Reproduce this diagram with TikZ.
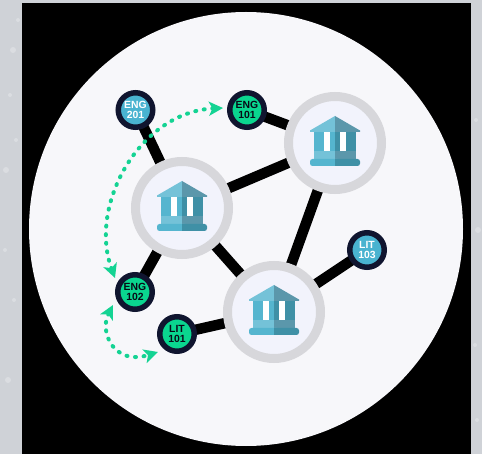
\documentclass[tikz,border=0pt]{standalone}
\usepackage{fontspec}
\setmainfont{Liberation Sans}
\usetikzlibrary{arrows.meta,backgrounds}
\definecolor{bgstrip}{HTML}{CFD2D7}
\definecolor{disc}{HTML}{F7F7FA}
\definecolor{ringgray}{HTML}{D7D7DB}
\definecolor{hubfill}{HTML}{F2F3FC}
\definecolor{navy}{HTML}{10152F}
\definecolor{mint}{HTML}{0AD68F}
\definecolor{sky}{HTML}{49B3D0}
\definecolor{dotgreen}{HTML}{14D393}
\definecolor{lightL}{HTML}{74C2D8}
\definecolor{lightR}{HTML}{5B97AB}
\definecolor{midL}{HTML}{55B5CF}
\definecolor{midR}{HTML}{3F90A6}
\tikzset{
  x=1pt,y=-1pt,
  hubnode/.style={circle,draw=ringgray,line width=9pt,fill=hubfill,minimum size=93pt,inner sep=0pt,outer sep=0pt},
  course/.style={circle,draw=navy,line width=5.5pt,minimum size=34.5pt,inner sep=0pt,outer sep=0pt,align=center,
    font=\bfseries\fontsize{10.4}{9.8}\selectfont},
  coursegreen/.style={course,fill=mint,text=navy!50!black},
  courseblue/.style={course,fill=sky,text=white},
  link/.style={line width=10.5pt,black},
  hop/.style={dotgreen,line width=4pt,line cap=round,dash pattern=on 1pt off 7.6pt,
    {Stealth[length=14pt,width=14pt,inset=3.5pt,line cap=butt]}-{Stealth[length=14pt,width=14pt,inset=3.5pt,line cap=butt]}},
  pics/building/.style={code={
    \fill[lightL] (0,-27) -- (-25,-12.5) -- (-25,-11) -- (0,-11) -- cycle;
    \fill[lightR] (0,-27) -- (25,-12.5) -- (25,-11) -- (0,-11) -- cycle;
    \fill[midL] (-21,-11) rectangle (0,8);
    \fill[midR] (0,-11) rectangle (21,8);
    \fill[lightL] (-21,8) rectangle (0,17);
    \fill[lightR] (0,8) rectangle (21,17);
    \fill[midL,rounded corners=2.5pt] (-25,16) rectangle (6,23);
    \fill[midR,rounded corners=2.5pt] (0,16) rectangle (25,23);
    \fill[midR] (0,16) rectangle (4,23);
    \fill[white] (-11,-10.7) rectangle (-4.7,7.8);
    \fill[white] (4.7,-10.7) rectangle (11,7.8);
  }}
}
\begin{document}
\begin{tikzpicture}
\useasboundingbox (0,0) rectangle (482,454);
% main nodes
\node[hubnode] (hubA) at (182,208) {};
\node[hubnode] (hubB) at (335,143) {};
\node[hubnode] (hubC) at (274,312) {};
\node[courseblue] (eng201) at (135.5,110) {ENG\\201};
\node[coursegreen] (eng101) at (247,110) {ENG\\101};
\node[coursegreen] (eng102) at (135,292) {ENG\\102};
\node[coursegreen] (lit101) at (177,334) {LIT\\101};
\node[courseblue] (lit103) at (367,250) {LIT\\103};
\pic at (hubA) {building};
\pic at (hubB) {building};
\pic at (hubC) {building};
\begin{scope}[on background layer]
  \fill[bgstrip] (0,0) rectangle (482,454);
  \foreach \px/\py/\pr in {18/20/2,13/50/3,10/95/2,6/170/3,14/300/2,8/380/3,476/120/2,478/230/3,475/345/2,477/420/2,5/250/2,16/140/2}
    \fill[white,opacity=.25] (\px,\py) circle (\pr);
  \fill[black] (22,3) rectangle (471,454);
  \fill[disc] (246,229) circle (217);
  \draw[link] (eng201) -- (hubA);
  \draw[link] (eng102) -- (hubA);
  \draw[link] (hubA) -- (hubB);
  \draw[link] (hubA) -- (hubC);
  \draw[link] (hubB) -- (hubC);
  \draw[link] (eng101) -- (hubB);
  \draw[link] (lit101) -- (hubC);
  \draw[link] (lit103) -- (hubC);
\end{scope}
\coordinate (arcAend) at (223,108);
\coordinate (arcAstart) at (115,278);
\coordinate (arcBstart) at (113,305);
\coordinate (arcBend) at (158,352);
\draw[hop] (arcAstart) .. controls (88,205) and (140,112) .. (arcAend);
\draw[hop] (arcBstart) .. controls (99,332) and (114,366) .. (arcBend);
\end{tikzpicture}
\end{document}
